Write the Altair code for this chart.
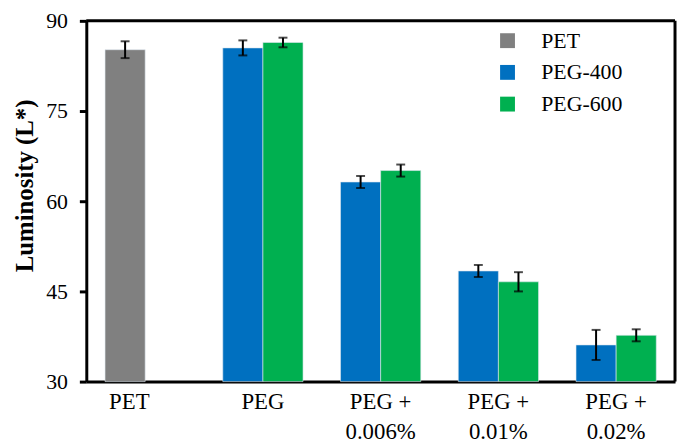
import altair as alt
import pandas as pd

groups = ["PET", "PEG", "PEG +|0.006%", "PEG +|0.01%", "PEG +|0.02%"]
series_names = ["PET", "PEG-400", "PEG-600"]
colors = ["#808080", "#0070C0", "#00B050"]

pet_values = [85.2]
pet_errors = [1.4]
peg400_values = [85.5, 63.2, 48.4, 36.1]
peg400_errors = [1.25, 1.0, 1.0, 2.5]
peg600_values = [86.4, 65.1, 46.6, 37.7]
peg600_errors = [0.8, 1.0, 1.6, 1.0]

rows = []
rows.append({"group": groups[0], "series": "PET", "slot": "a",
             "value": pet_values[0], "err": pet_errors[0]})
for g, v, e in zip(groups[1:], peg400_values, peg400_errors):
    rows.append({"group": g, "series": "PEG-400", "slot": "a", "value": v, "err": e})
for g, v, e in zip(groups[1:], peg600_values, peg600_errors):
    rows.append({"group": g, "series": "PEG-600", "slot": "b", "value": v, "err": e})
df = pd.DataFrame(rows)
df["lo"] = df["value"] - df["err"]
df["hi"] = df["value"] + df["err"]

FONT = "Liberation Serif"
W, H = 594, 364

x_scale = alt.Scale(domain=groups, paddingInner=0, paddingOuter=0)
xo_scale = alt.Scale(domain=["a", "b"], paddingInner=0, paddingOuter=0.467)
y_scale = alt.Scale(domain=[30, 90], nice=False, zero=False)

x_enc = alt.X(
    "group:N",
    sort=groups,
    scale=x_scale,
    axis=alt.Axis(
        title=None,
        labelAngle=0,
        ticks=False,
        labelExpr="split(datum.label, '|')",
        labelFontSize=23,
        labelFont=FONT,
        labelColor="black",
        labelPadding=9,
        labelLineHeight=30,
        labelBaseline="top",
        labelOffset={"condition": {"test": "datum.value == 'PET'", "value": -16}, "value": 0},
        domainColor="black",
        domainWidth=3,
        grid=False,
    ),
)

bars = alt.Chart(df).mark_bar(stroke="#dfe8f0", strokeWidth=0.6).encode(
    x=x_enc,
    xOffset=alt.XOffset("slot:N", scale=xo_scale),
    y=alt.Y(
        "value:Q",
        scale=y_scale,
        axis=alt.Axis(
            title="Luminosity (L*)",
            values=[30, 45, 60, 75, 90],
            grid=False,
            tickColor="black",
            tickWidth=3,
            tickSize=7,
            labelFontSize=22,
            labelFont=FONT,
            labelColor="black",
            labelPadding=12,
            domainColor="black",
            domainWidth=3,
            titleFont=FONT,
            titleFontSize=25,
            titleFontWeight="bold",
            titleColor="black",
            titlePadding=8,
            titleY=166,
        ),
    ),
    y2=alt.datum(30),
    color=alt.Color(
        "series:N",
        scale=alt.Scale(domain=series_names, range=colors),
        legend=alt.Legend(
            title=None,
            orient="none",
            legendX=414,
            legendY=9,
            symbolType="square",
            symbolSize=225,
            symbolStrokeWidth=0,
            labelFont=FONT,
            labelFontSize=22,
            labelColor="black",
            labelOffset=23,
            rowPadding=10,
            padding=0,
        ),
    ),
)

rules = alt.Chart(df).mark_rule(color="black", strokeWidth=2).encode(
    x=alt.X("group:N", sort=groups, scale=x_scale),
    xOffset=alt.XOffset("slot:N", scale=xo_scale),
    y=alt.Y("lo:Q", scale=y_scale),
    y2="hi:Q",
)

ticks_lo = alt.Chart(df).mark_tick(color="black", size=9, thickness=2).encode(
    x=alt.X("group:N", sort=groups, scale=x_scale),
    xOffset=alt.XOffset("slot:N", scale=xo_scale),
    y=alt.Y("lo:Q", scale=y_scale),
)
ticks_hi = alt.Chart(df).mark_tick(color="black", size=9, thickness=2).encode(
    x=alt.X("group:N", sort=groups, scale=x_scale),
    xOffset=alt.XOffset("slot:N", scale=xo_scale),
    y=alt.Y("hi:Q", scale=y_scale),
)

frame_df = pd.DataFrame({"top": [90], "bottom": [30]})
# top border of the plot area
frame_top = alt.Chart(frame_df).mark_rule(color="black", strokeWidth=3).encode(
    x=alt.value(0),
    x2=alt.value(W),
    y=alt.Y("top:Q", scale=y_scale),
)
# right border of the plot area
frame_right = alt.Chart(frame_df).mark_rule(color="black", strokeWidth=3).encode(
    x=alt.value(W),
    y=alt.Y("top:Q", scale=y_scale),
    y2="bottom:Q",
)

chart = alt.layer(bars, rules, ticks_lo, ticks_hi, frame_top, frame_right).properties(
    width=W,
    height=H,
    background="white",
    padding={"left": 5, "top": 0, "right": 0, "bottom": 0},
)

chart.save("out.html", embed_options={"renderer": "svg", "actions": False})
